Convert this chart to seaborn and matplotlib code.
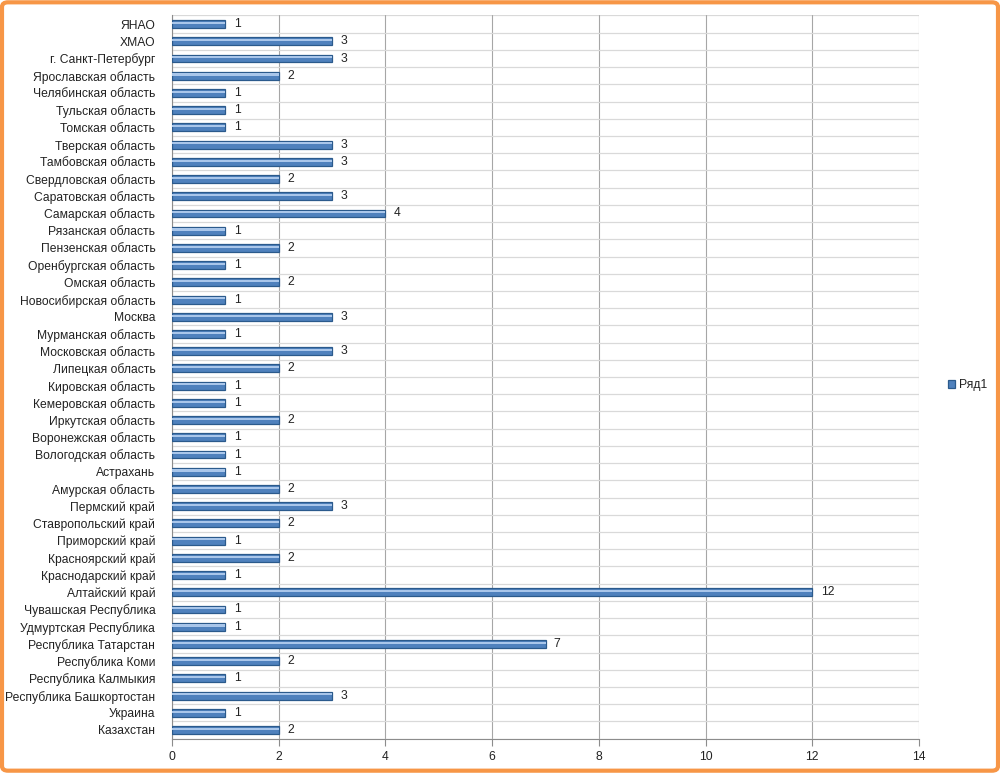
import matplotlib
matplotlib.use("Agg")
import matplotlib.pyplot as plt
import seaborn as sns
import numpy as np
from matplotlib.patches import FancyBboxPatch

# regions listed top to bottom as in the chart
regions = [
    "ЯНАО", "ХМАО", "г. Санкт-Петербург", "Ярославская область",
    "Челябинская область", "Тульская область", "Томская область",
    "Тверская область", "Тамбовская область", "Свердловская область",
    "Саратовская область", "Самарская область", "Рязанская область",
    "Пензенская область", "Оренбургская область", "Омская область",
    "Новосибирская область", "Москва", "Мурманская область",
    "Московская область", "Липецкая область", "Кировская область",
    "Кемеровская область", "Иркутская область", "Воронежская область",
    "Вологодская область", "Астрахань", "Амурская область",
    "Пермский край", "Ставропольский край", "Приморский край",
    "Красноярский край", "Краснодарский край", "Алтайский край",
    "Чувашская Республика", "Удмуртская Республика",
    "Республика Татарстан", "Республика Коми", "Республика Калмыкия",
    "Республика Башкортостан", "Украина", "Казахстан",
]
counts = [
    1, 3, 3, 2,
    1, 1, 1,
    3, 3, 2,
    3, 4, 1,
    2, 1, 2,
    1, 3, 1,
    3, 2, 1,
    1, 2, 1,
    1, 1, 2,
    3, 2, 1,
    2, 1, 12,
    1, 1,
    7, 2, 1,
    3, 1, 2,
]
x_ticks = [0, 2, 4, 6, 8, 10, 12, 14]
series_name = "Ряд1"

sns.set_theme(style="white")
plt.rcParams["font.family"] = ["Liberation Sans", "DejaVu Sans"]

fig = plt.figure(figsize=(10, 7.73), dpi=100)
ax = fig.add_axes([0.172, 0.0445, 0.747, 0.9355])

# main bar body
sns.barplot(x=counts, y=regions, orient="h", color="#4F81BD", saturation=1,
            width=0.46, edgecolor="#2B5A8C", linewidth=0.9, ax=ax,
            label=series_name, zorder=3)
# light strip to fake the cylinder shading
sns.barplot(x=counts, y=regions, orient="h", color="#A9C6EA", saturation=1,
            width=0.12, linewidth=0, ax=ax, zorder=4)
for p in ax.containers[1]:
    p.set_y(p.get_y() - 0.07)

ax.bar_label(ax.containers[0], padding=6, fontsize=8.7, color="#222222")

ax.set_xlim(0, 14)
ax.set_ylim(len(regions) - 0.5, -0.5)
ax.set_xticks(x_ticks)
ax.set_yticks(np.arange(len(regions)) + 0.5, minor=True)
ax.set_yticks(np.arange(len(regions)), minor=False)
ax.set_yticklabels(regions)

ax.grid(axis="x", which="major", color="#A6A6A6", linewidth=0.8, zorder=0)
ax.grid(axis="y", which="minor", color="#D9D9D9", linewidth=0.9, zorder=0)
ax.set_axisbelow(True)
ax.axhline(-0.5, color="#D9D9D9", linewidth=0.9, zorder=0)

for side in ["top", "right"]:
    ax.spines[side].set_visible(False)
for side in ["left", "bottom"]:
    ax.spines[side].set_color("#8C8C8C")
    ax.spines[side].set_linewidth(0.8)

ax.tick_params(axis="x", which="major", bottom=True, length=5, width=0.8,
               color="#8C8C8C", labelsize=8.7, pad=4, labelcolor="#222222")
ax.tick_params(axis="y", which="major", left=False, labelsize=8.7, pad=6,
               labelcolor="#222222")
ax.tick_params(axis="y", which="minor", left=False)
ax.set_xlabel("")
ax.set_ylabel("")

ax.legend(loc="center left", bbox_to_anchor=(1.024, 0.489), frameon=False,
          handlelength=0.6, handleheight=0.6, handletextpad=0.3,
          fontsize=8.7, labelcolor="#222222")

fig.patches.append(FancyBboxPatch(
    (0.002, 0.003), 0.996, 0.994,
    boxstyle="round,pad=0,rounding_size=0.006",
    transform=fig.transFigure, fill=False,
    edgecolor="#F79646", linewidth=3))

fig.savefig("out.png", dpi=100, facecolor="white")
